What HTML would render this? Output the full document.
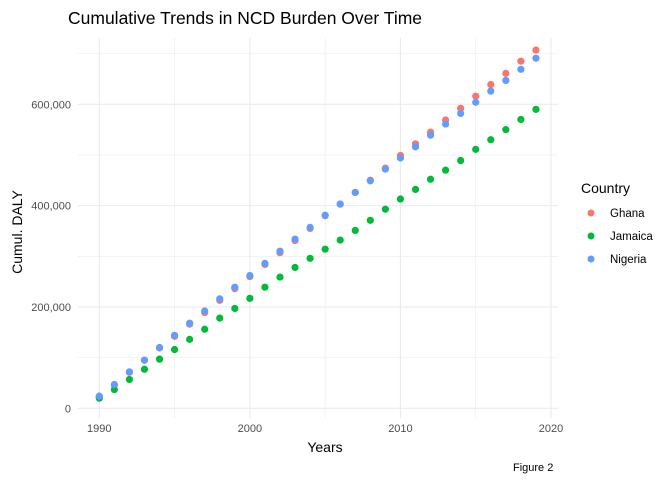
<!DOCTYPE html>
<html><head><meta charset="utf-8"><style>
body{margin:0;background:#fff;}
svg text{font-family:"Liberation Sans",sans-serif;}
</style></head><body>
<svg id="chart" width="672" height="480" xmlns="http://www.w3.org/2000/svg">
<text x="68" y="24" font-size="17.5" fill="#000">Cumulative Trends in NCD Burden Over Time</text>
<g id="grid"></g>
<g id="points"></g>
<g id="axes"></g>
<text x="325" y="452" font-size="14" text-anchor="middle">Years</text>
<text transform="translate(22,232) rotate(-90)" font-size="14" text-anchor="middle">Cumul. DALY</text>
<g>
<text x="581" y="193" font-size="14">Country</text>
<g><circle cx="591" cy="213" r="3.5" fill="#F8766D"/><text x="610" y="217" font-size="11.5">Ghana</text></g>
<g><circle cx="591" cy="236" r="3.5" fill="#00BA38"/><text x="610" y="240" font-size="11.5">Jamaica</text></g>
<g><circle cx="591" cy="259" r="3.5" fill="#619CFF"/><text x="610" y="263" font-size="11.5">Nigeria</text></g>
</g>
<text x="513" y="471" font-size="11">Figure 2</text>
</svg>
<script>
const years=[1990,1991,1992,1993,1994,1995,1996,1997,1998,1999,2000,2001,2002,2003,2004,2005,2006,2007,2008,2009,2010,2011,2012,2013,2014,2015,2016,2017,2018,2019];
const ghana=[22,46,71,95,119,142,166,189,213,236,260,284,307,331,355,380,403,426,450,474,499,522,545,569,592,616,639,661,685,707];
const jamaica=[20,37,57,77,97,116,136,156,178,197,217,239,259,278,296,314,332,351,371,393,413,432,452,470,489,511,530,550,570,590];
const nigeria=[24,47,72,95,120,144,168,192,216,239,262,286,310,334,357,381,403,426,449,472,494,516,539,561,582,604,626,647,669,691];
const xTicks=[1990,2000,2010,2020];
const yTicks=[0,200000,400000,600000];
const yTickLabels=["0","200,000","400,000","600,000"];
const NS="http://www.w3.org/2000/svg";
const x=v=>99.3+(v-1990)*(551-99.3)/30;
const y=v=>408.3-v*50.67/100000;
const L=78,R=558,T=38,B=418;
const grid=document.getElementById('grid'),axes=document.getElementById('axes'),pts=document.getElementById('points');
function line(x1,y1,x2,y2,w,parent,name){const l=document.createElementNS(NS,'line');l.setAttribute('x1',x1);l.setAttribute('y1',y1);l.setAttribute('x2',x2);l.setAttribute('y2',y2);l.setAttribute('stroke','#ebebeb');l.setAttribute('stroke-width',w);


parent.appendChild(l);}
for(let v=0;v<=700000;v+=100000){line(L,y(v),R,y(v),v%200000===0?1.1:0.55,grid,'y-gridline');}
for(let v=1990;v<=2020;v+=5){line(x(v),T,x(v),B,v%10===0?1.1:0.55,grid,'x-gridline');}
xTicks.forEach(v=>{const t=document.createElementNS(NS,'text');t.setAttribute('x',x(v));t.setAttribute('y',432);t.setAttribute('font-size','11');t.setAttribute('fill','#4d4d4d');t.setAttribute('text-anchor','middle');t.textContent=v;


axes.appendChild(t);});
yTicks.forEach((v,i)=>{const t=document.createElementNS(NS,'text');t.setAttribute('x',71);t.setAttribute('y',y(v)+4);t.setAttribute('font-size','11');t.setAttribute('fill','#4d4d4d');t.setAttribute('text-anchor','end');t.textContent=yTickLabels[i];


axes.appendChild(t);});
[[ghana,'#F8766D','ghana'],[jamaica,'#00BA38','jamaica'],[nigeria,'#619CFF','nigeria']].forEach(([s,c,n])=>{
s.forEach((v,i)=>{const p=document.createElementNS(NS,'circle');p.setAttribute('cx',x(years[i]));p.setAttribute('cy',y(v*1000));p.setAttribute('r',3.6);p.setAttribute('fill',c);


pts.appendChild(p);});});
</script>
</body></html>
